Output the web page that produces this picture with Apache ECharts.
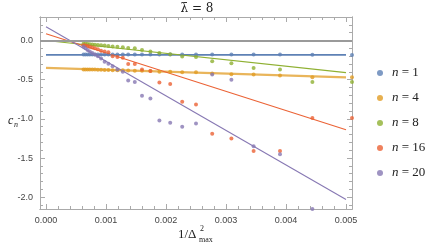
<!DOCTYPE html>
<html><head><meta charset="utf-8">
<script src="https://cdn.jsdelivr.net/npm/echarts@6/dist/echarts.min.js"></script>
<style>html,body{margin:0;padding:0;background:#fff}#c{width:429px;height:245px}</style>
</head><body><div id="c"></div>
<script>
// x positions: 1/Delta_max^2 values
var xs = [0.000625,0.000657,0.000693,0.000730,0.000772,0.000816,0.000865,0.000918,0.000977,0.00104,0.00111,0.00119,0.00128,0.00137,0.00148,0.00160,0.00174,0.00189,0.00207,0.00227,0.00250,0.00277,0.00309,0.00346,0.00390,0.00444,0.00510];
var n1  = [-0.18,-0.18,-0.18,-0.18,-0.18,-0.18,-0.18,-0.18,-0.18,-0.18,-0.18,-0.18,-0.18,-0.18,-0.18,-0.18,-0.18,-0.18,-0.18,-0.18,-0.18,-0.18,-0.18,-0.18,-0.18,-0.183,-0.185];
var n4  = [-0.37,-0.37,-0.37,-0.37,-0.37,-0.37,-0.372,-0.372,-0.375,-0.375,-0.378,-0.38,-0.38,-0.382,-0.385,-0.385,-0.39,-0.40,-0.40,-0.405,-0.405,-0.42,-0.43,-0.435,-0.445,-0.47,-0.47];
var n8  = [-0.04,-0.042,-0.045,-0.048,-0.05,-0.053,-0.057,-0.06,-0.065,-0.07,-0.075,-0.08,-0.087,-0.094,-0.10,-0.12,-0.14,-0.16,-0.175,-0.205,-0.21,-0.265,-0.29,-0.35,-0.37,-0.53,-0.53];
var n16 = [-0.06,-0.065,-0.07,-0.08,-0.09,-0.10,-0.11,-0.13,-0.14,-0.15,-0.20,-0.21,-0.22,-0.30,-0.30,-0.37,-0.39,-0.535,-0.555,-0.78,-0.815,-1.19,-1.25,-1.41,-1.41,-0.99,-0.99];
var n20 = [-0.08,-0.10,-0.12,-0.14,-0.16,-0.18,-0.20,-0.23,-0.27,-0.295,-0.33,-0.37,-0.40,-0.51,-0.53,-0.705,-0.74,-1.02,-1.05,-1.10,-1.06,-0.435,-0.50,-1.35,-1.45,-2.15,null];
// fitted lines: values at x = 0 and x = 0.005
var fitX = [0, 0.005];
var fit1 = [-0.183,-0.183];
var fit4 = [-0.35,-0.47];
var fit8 = [0.0,-0.41];
var fit16 = [0.086,-1.14];
var fit20 = [0.176,-2.03];
var names = ['n = 1','n = 4','n = 8','n = 16','n = 20'];
var colors = ['#5E81B5','#E19C24','#8FB032','#EB6235','#8778B3'];
var xMajor = [0,0.001,0.002,0.003,0.004,0.005];
var xMinor = [0.0002,0.0004,0.0006,0.0008,0.0012,0.0014,0.0016,0.0018,0.0022,0.0024,0.0026,0.0028,0.0032,0.0034,0.0036,0.0038,0.0042,0.0044,0.0046,0.0048];
var yMajor = [-2,-1.5,-1,-0.5,0];
var yMinor = [-2.1,-1.9,-1.8,-1.7,-1.6,-1.4,-1.3,-1.2,-1.1,-0.9,-0.8,-0.7,-0.6,-0.4,-0.3,-0.2,-0.1,0.1,0.2,0.3];

var frame = '#aaaaaa';
function pts(v){ var o=[]; for(var i=0;i<xs.length;i++){ if(v[i]!==null) o.push([xs[i],v[i]]); } return o; }
function ln(v){ return [[fitX[0],v[0]],[fitX[1],v[1]]]; }
function xa(pos, vals, len, lab){
  return {type:'value', min:-0.0001, max:0.0051, position:pos, gridIndex:0,
    axisLine:{show:true, onZero:false, lineStyle:{color:frame, width:1}},
    axisTick:{show:true, inside:true, length:len, customValues:vals, lineStyle:{color:frame}},
    axisLabel:{show:lab, customValues:vals, formatter:function(v){return v.toFixed(3);}, color:'#444', fontSize:9, fontFamily:'Liberation Sans', margin:7},
    splitLine:{show:false}};
}
function ya(pos, vals, len, lab){
  return {type:'value', min:-2.15, max:0.3, position:pos,
    axisLine:{show:true, onZero:false, lineStyle:{color:frame, width:1}},
    axisTick:{show:true, inside:true, length:len, customValues:vals, lineStyle:{color:frame}},
    axisLabel:{show:lab, customValues:vals, formatter:function(v){return v.toFixed(1);}, color:'#444', fontSize:9, fontFamily:'Liberation Sans', margin:7},
    splitLine:{show:false}};
}
var datas = [n1,n4,n8,n16,n20];
var fits = [fit1,fit4,fit8,fit16,fit20];
var series = [];
for (var k=0;k<5;k++){
  series.push({name:'fit'+k, type:'line', data:ln(fits[k]), symbol:'none', silent:true,
    lineStyle:{color:colors[k], width:(k===1?2.2:(k===0?1.6:1.1)), opacity:(k===1?0.75:1)}, z:2,
    markLine: k===0 ? {silent:true, symbol:'none', data:[{yAxis:0}], label:{show:false}, lineStyle:{color:'#9a9a9a', width:2, type:'solid'}} : undefined});
}
for (var k=0;k<5;k++){
  series.push({name:names[k], type:'scatter', data:pts(datas[k]), symbolSize:4, clip:false,
    itemStyle:{color:colors[k]}, z:3});
}
var chart = echarts.init(document.getElementById('c'), null, {renderer:'canvas'});
chart.setOption({
  animation:false,
  grid:{left:40, right:77, top:17, bottom:36, containLabel:false},
  xAxis:[xa('bottom',xMajor,5,true), xa('bottom',xMinor,3,false), xa('top',xMajor,5,false), xa('top',xMinor,3,false)],
  yAxis:[ya('left',yMajor,5,true), ya('left',yMinor,3,false), ya('right',yMajor,5,false), ya('right',yMinor,3,false)],
  legend:{data:names, orient:'vertical', left:372, top:61, itemWidth:6, itemHeight:6, itemGap:11, icon:'circle',
    formatter:function(n){return n.replace('n','{i|n}');},
    textStyle:{fontFamily:'Liberation Serif', fontSize:13, color:'#222', padding:[0,0,0,4], lineHeight:14,
      rich:{i:{fontFamily:'Liberation Serif', fontStyle:'italic', fontSize:13, color:'#222'}}}},
  graphic:[
    {type:'text', style:{text:'λ̄ = 8', font:'12px "DejaVu Serif"', fill:'#222', x:197, y:3, align:'center'}},
    {type:'text', style:{text:'c', x:8, y:115, font:'italic 12px "Liberation Serif"', fill:'#222'}},
    {type:'text', style:{text:'n', x:14, y:121, font:'italic 8px "Liberation Serif"', fill:'#222'}},
    {type:'text', style:{text:'1/Δ', x:178, y:228, font:'13px "Liberation Serif"', fill:'#222'}},
    {type:'text', style:{text:'2', x:200, y:225, font:'8px "Liberation Serif"', fill:'#222'}},
    {type:'text', style:{text:'max', x:199, y:236, font:'8px "Liberation Serif"', fill:'#222'}}
  ],
  series:series
});
</script></body></html>
